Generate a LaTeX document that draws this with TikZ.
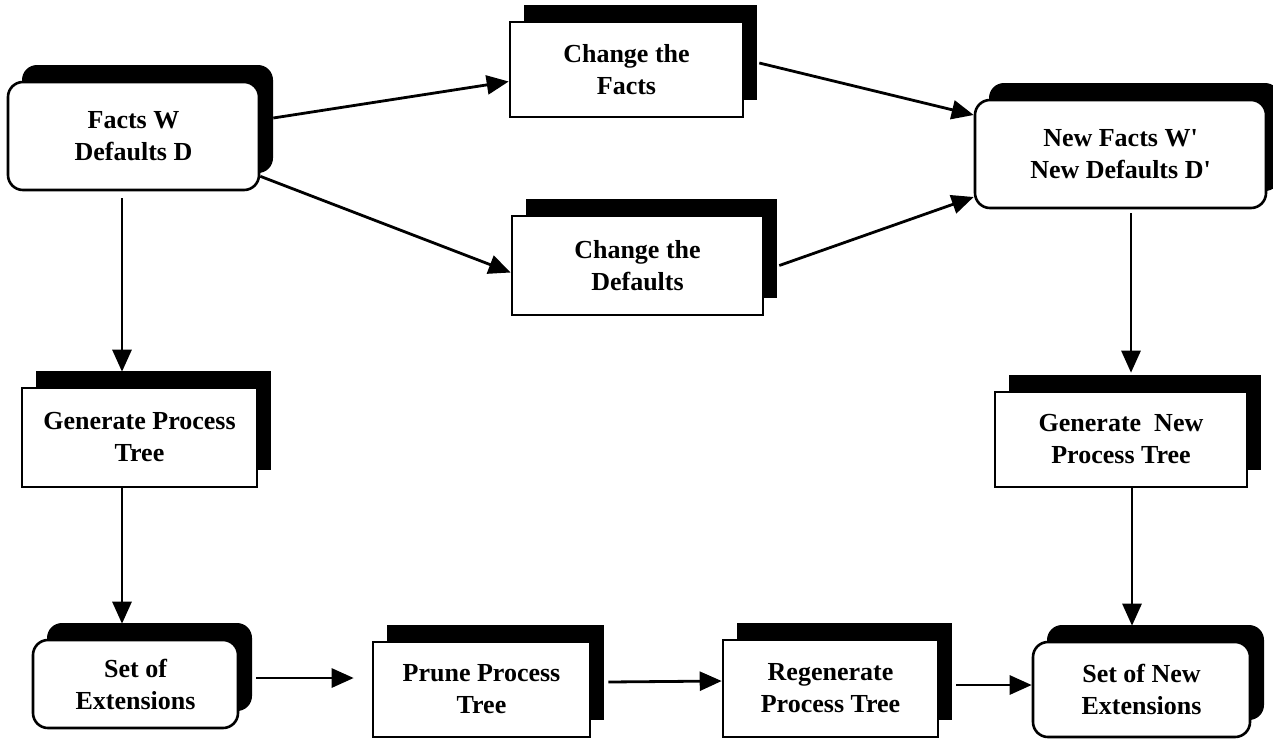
\documentclass[tikz,border=0pt]{standalone}
\usepackage{fontspec}
\setmainfont{Liberation Serif}[Ligatures=TeXOff]
\usetikzlibrary{arrows.meta,shadows}
\begin{document}
\begin{tikzpicture}[x=1pt,y=-1pt,
  box/.style={draw=black, line width=2.6pt, fill=white, inner sep=0pt, align=center,
    font=\fontsize{26}{32}\selectfont\bfseries,
    general shadow={fill=black, shadow xshift=14pt, shadow yshift=17pt}},
  rbox/.style={box, rounded corners=15pt},
  arr/.style={line width=2.8pt, -{Triangle[length=22pt,width=19pt]}}]
\useasboundingbox (0,0) rectangle (1273,739);
\node[rbox, minimum width=251pt, minimum height=108pt] (facts) at (133.5,136) {Facts W\\Defaults D};
\node[box, minimum width=233pt, minimum height=95pt] (chf) at (626.5,69.5) {Change the\\Facts};
\node[box, minimum width=251pt, minimum height=99pt] (chd) at (637.5,265.5) {Change the\\Defaults};
\node[rbox, minimum width=291pt, minimum height=108pt] (newf) at (1120.5,154) {New Facts W'\\New Defaults D'};
\node[box, minimum width=235pt, minimum height=99pt] (gpt) at (139.5,437.5) {Generate Process\\Tree};
\node[box, minimum width=252pt, minimum height=95pt] (gnpt) at (1121,439.5) {Generate\ \ New\\Process Tree};
\node[rbox, minimum width=205pt, minimum height=88pt] (soe) at (135.5,684) {Set of\\Extensions};
\node[box, minimum width=217pt, minimum height=95pt] (ppt) at (481.5,689.5) {Prune Process\\Tree};
\node[box, minimum width=215pt, minimum height=97pt] (rpt) at (830.5,688.5) {Regenerate\\Process Tree};
\node[rbox, minimum width=217pt, minimum height=95pt] (sone) at (1141.5,689.5) {Set of New\\Extensions};

\draw[arr] ([xshift=13pt,yshift=18pt]facts.east) -- ([yshift=-12pt]chf.west);
\draw[arr] ([yshift=15pt]facts.south east) -- ([yshift=-7pt]chd.west);
\draw[arr] ([xshift=15pt,yshift=6.5pt]chf.east) -- ([yshift=39pt]newf.west);
\draw[arr] ([xshift=15pt]chd.east) -- ([yshift=-43pt]newf.west);
\draw[arr] ([xshift=-11.5pt,yshift=-7pt]facts.south) -- ([xshift=-17.5pt,yshift=15pt]gpt.north);
\draw[arr] ([xshift=-17.5pt]gpt.south) -- ([xshift=-13.5pt,yshift=15pt]soe.north);
\draw[arr] ([xshift=10.5pt,yshift=-4pt]newf.south) -- ([xshift=10pt,yshift=18pt]gnpt.north);
\draw[arr] ([xshift=11pt]gnpt.south) -- ([xshift=-9.5pt,yshift=15pt]sone.north);
\draw[arr] ([xshift=17pt,yshift=6pt]soe.east) -- ([xshift=-18pt,yshift=11.5pt]ppt.west);
\draw[arr] ([xshift=17pt,yshift=7.5pt]ppt.east) -- ([yshift=7.5pt]rpt.west);
\draw[arr] ([xshift=17pt,yshift=3.5pt]rpt.east) -- ([yshift=4.5pt]sone.west);
\end{tikzpicture}
\end{document}
